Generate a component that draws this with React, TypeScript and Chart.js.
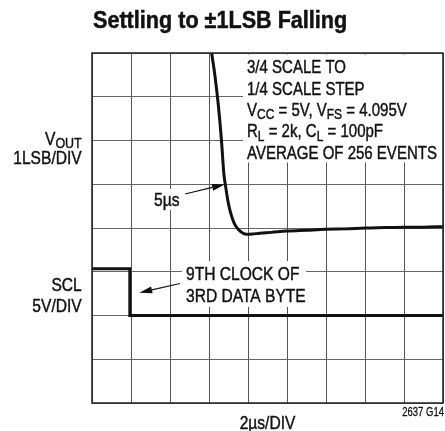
import React, { useEffect, useRef } from "react";
import { Chart, registerables } from "chart.js";

Chart.register(...registerables);

// ---- data (x in µs, 2µs/DIV; y in divisions) ----
const X_MIN_US = 0;
const X_MAX_US = 18;
const X_STEP_US = 2;
const Y_MIN_DIV = 0;
const Y_MAX_DIV = 8;

const voutTimeUs = [6.0, 6.14, 6.3, 6.48, 6.64, 6.76, 6.88, 7.0, 7.14, 7.3, 7.5, 7.7, 7.9, 8.1, 8.6, 9.2, 10.0, 11.0, 12.0, 13.0, 14.0, 15.0, 16.0, 17.0, 18.0];
const voutDiv = [8.6, 8.0, 7.5, 6.8, 6.0, 5.25, 4.87, 4.55, 4.3, 4.1, 3.97, 3.89, 3.86, 3.86, 3.88, 3.9, 3.93, 3.95, 3.97, 3.98, 4.0, 4.01, 4.02, 4.02, 4.03];

const sclTimeUs = [0, 1.94, 1.94, 18];
const sclDiv = [3.07, 3.07, 2.0, 2.0];

const titleText = "Settling to ±1LSB Falling";
const xAxisText = "2µs/DIV";
const figureCode = "2637 G14";

type Seg = { t: string; sub?: boolean };

const conditionLines: Seg[][] = [
  [{ t: "3/4 SCALE TO" }],
  [{ t: "1/4 SCALE STEP" }],
  [{ t: "V" }, { t: "CC", sub: true }, { t: " = 5V, V" }, { t: "FS", sub: true }, { t: " = 4.095V" }],
  [{ t: "R" }, { t: "L", sub: true }, { t: " = 2k, C" }, { t: "L", sub: true }, { t: " = 100pF" }],
  [{ t: "AVERAGE OF 256 EVENTS" }],
];
const voutLabel: Seg[][] = [[{ t: "V" }, { t: "OUT", sub: true }], [{ t: "1LSB/DIV" }]];
const sclLabel: Seg[][] = [[{ t: "SCL" }], [{ t: "5V/DIV" }]];
const settleLabel = "5µs";
const settleMark = { x: 6.82, y: 5.0 };
const clockLabel = ["9TH CLOCK OF", "3RD DATA BYTE"];
const clockMark = { x: 2.42, y: 2.52 };

const FONT = '"Liberation Sans", Arial, sans-serif';
const NARROW = 0.82;

function drawRich(
  ctx: CanvasRenderingContext2D,
  segs: Seg[],
  x: number,
  y: number,
  size: number,
  align: "left" | "right" | "center" = "left",
  bold = false,
  sx = NARROW,
  weight = 0.45
) {
  const f = (s: number) => `${bold ? "bold " : ""}${s}px ${FONT}`;
  const subSize = size * 0.8;
  let total = 0;
  const widths: number[] = [];
  for (const s of segs) {
    ctx.font = f(s.sub ? subSize : size);
    const w = ctx.measureText(s.t).width;
    widths.push(w);
    total += w;
  }
  ctx.save();
  ctx.translate(x, y);
  ctx.scale(sx, 1);
  ctx.textAlign = "left";
  ctx.textBaseline = "alphabetic";
  ctx.fillStyle = "#111";
  ctx.strokeStyle = "#111";
  ctx.lineWidth = weight;
  ctx.lineJoin = "round";
  let cx = align === "right" ? -total : align === "center" ? -total / 2 : 0;
  segs.forEach((s, i) => {
    ctx.font = f(s.sub ? subSize : size);
    const dy = s.sub ? size * 0.17 : 0;
    ctx.fillText(s.t, cx, dy);
    if (weight > 0) ctx.strokeText(s.t, cx, dy);
    cx += widths[i];
  });
  ctx.restore();
}

function drawArrow(ctx: CanvasRenderingContext2D, x1: number, y1: number, x2: number, y2: number) {
  const ang = Math.atan2(y2 - y1, x2 - x1);
  const len = 13;
  const half = 3.5;
  const bx = x2 - len * Math.cos(ang);
  const by = y2 - len * Math.sin(ang);
  ctx.save();
  ctx.strokeStyle = "#111";
  ctx.fillStyle = "#111";
  ctx.lineWidth = 1.2;
  ctx.beginPath();
  ctx.moveTo(x1, y1);
  ctx.lineTo(bx, by);
  ctx.stroke();
  ctx.beginPath();
  ctx.moveTo(x2, y2);
  ctx.lineTo(bx + half * Math.sin(ang), by - half * Math.cos(ang));
  ctx.lineTo(bx - half * Math.sin(ang), by + half * Math.cos(ang));
  ctx.closePath();
  ctx.fill();
  ctx.restore();
}

const overlayPlugin = {
  id: "overlay",
  beforeDatasetsDraw(chart: any) {
    const ctx: CanvasRenderingContext2D = chart.ctx;
    const a = chart.chartArea;
    ctx.save();
    ctx.fillStyle = "#fff";
    // white boxes behind annotations
    ctx.fillRect(243, a.top + 1.5, a.right - 243, 161 - a.top);
    ctx.fillRect(152, 189, 32, 21);
    ctx.fillRect(182, 261, 124, 46);
    ctx.restore();
    conditionLines.forEach((ln, i) => drawRich(ctx, ln, 247, 73.3 + i * 21.35, 19, "left", false, 0.79));
    drawRich(ctx, [{ t: settleLabel }], 154, 205.7, 19);
    clockLabel.forEach((t, i) => drawRich(ctx, [{ t }], 186, 280 + i * 22, 19));
  },
  afterDatasetsDraw(chart: any) {
    const ctx: CanvasRenderingContext2D = chart.ctx;
    const a = chart.chartArea;
    const xs = chart.scales.x;
    const ys = chart.scales.y;
    ctx.save();
    ctx.strokeStyle = "#222";
    ctx.lineWidth = 1.5;
    ctx.strokeRect(a.left, a.top, a.right - a.left, a.bottom - a.top);
    ctx.restore();
    drawArrow(ctx, 185, 194, xs.getPixelForValue(settleMark.x), ys.getPixelForValue(settleMark.y));
    drawArrow(ctx, 180, 283.5, xs.getPixelForValue(clockMark.x), ys.getPixelForValue(clockMark.y));
  },
  afterDraw(chart: any) {
    const ctx: CanvasRenderingContext2D = chart.ctx;
    const a = chart.chartArea;
    drawRich(ctx, [{ t: titleText }], 93, 28.3, 24, "left", true, 0.9, 0.5);
    drawRich(ctx, voutLabel[0], 81.7, 145, 19, "right");
    drawRich(ctx, voutLabel[1], 81.7, 164, 19, "right");
    drawRich(ctx, sclLabel[0], 81.7, 290.7, 19, "right");
    drawRich(ctx, sclLabel[1], 81.7, 312, 19, "right");
    drawRich(ctx, [{ t: xAxisText }], (a.left + a.right) / 2, 429, 19, "center");
    drawRich(ctx, [{ t: figureCode }], 444, 415.5, 12.5, "right", false, 0.76, 0.3);
  },
};

export default function App() {
  const ref = useRef<HTMLCanvasElement | null>(null);
  useEffect(() => {
    if (!ref.current) return;
    const chart = new Chart(ref.current, {
      type: "line",
      data: {
        datasets: [
          {
            label: "VOUT",
            data: voutTimeUs.map((x, i) => ({ x, y: voutDiv[i] })),
            borderColor: "#111",
            borderWidth: 3,
            pointRadius: 0,
            cubicInterpolationMode: "monotone",
            fill: false,
          },
          {
            label: "SCL",
            data: sclTimeUs.map((x, i) => ({ x, y: sclDiv[i] })),
            borderColor: "#111",
            borderWidth: 3,
            pointRadius: 0,
            tension: 0,
            fill: false,
          },
        ],
      },
      options: {
        animation: false,
        responsive: false,
        devicePixelRatio: 1,
        layout: { padding: { left: 92, top: 53, right: 2, bottom: 28 } },
        plugins: { legend: { display: false }, tooltip: { enabled: false } },
        scales: {
          x: {
            type: "linear",
            min: X_MIN_US,
            max: X_MAX_US,
            ticks: { display: false, stepSize: X_STEP_US },
            grid: { color: "#555", lineWidth: 1, drawTicks: false },
            border: { display: false },
          },
          y: {
            type: "linear",
            min: Y_MIN_DIV,
            max: Y_MAX_DIV,
            ticks: { display: false, stepSize: 1 },
            grid: { color: "#666", lineWidth: 1, drawTicks: false },
            border: { display: false },
          },
        },
      },
      plugins: [overlayPlugin],
    });
    return () => chart.destroy();
  }, []);
  return (
    <div style={{ position: "absolute", left: 0, top: 0, width: 445, height: 431, background: "#fff" }}>
      <canvas ref={ref} width={445} height={431} style={{ display: "block" }} />
    </div>
  );
}
